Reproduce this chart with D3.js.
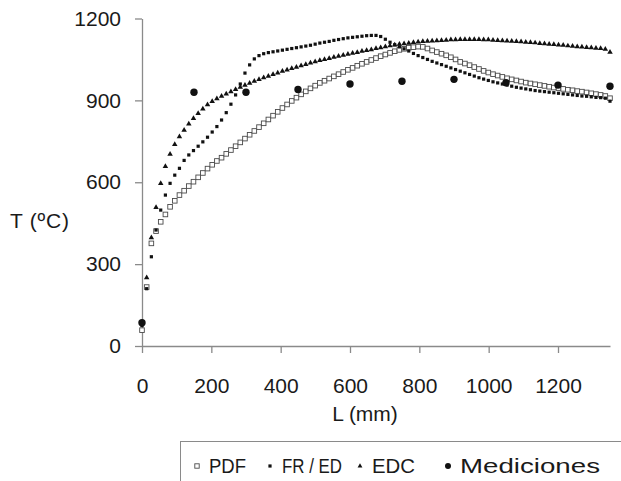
<!DOCTYPE html>
<html>
<head>
<meta charset="utf-8">
<script src="https://cdn.jsdelivr.net/npm/d3@7"></script>
<style>
  body { margin: 0; background: #fff; }
  text { font-family: "Liberation Sans", Arial, sans-serif; fill: #1a1a1a; }
</style>
</head>
<body>
<div id="chart"></div>
<script>
'use strict';

// axial position of the model nodes (mm)
const lengths = [
  0, 13.5, 27, 40.5, 54, 67.5, 81, 94.5, 108, 121.5,
  135, 148.5, 162, 175.5, 189, 202.5, 216, 229.5, 243, 256.5,
  270, 283.5, 297, 310.5, 324, 337.5, 351, 364.5, 378, 391.5,
  405, 418.5, 432, 445.5, 459, 472.5, 486, 499.5, 513, 526.5,
  540, 553.5, 567, 580.5, 594, 607.5, 621, 634.5, 648, 661.5,
  675, 688.5, 702, 715.5, 729, 742.5, 756, 769.5, 783, 796.5,
  810, 823.5, 837, 850.5, 864, 877.5, 891, 904.5, 918, 931.5,
  945, 958.5, 972, 985.5, 999, 1012.5, 1026, 1039.5, 1053, 1066.5,
  1080, 1093.5, 1107, 1120.5, 1134, 1147.5, 1161, 1174.5, 1188, 1201.5,
  1215, 1228.5, 1242, 1255.5, 1269, 1282.5, 1296, 1309.5, 1323, 1336.5,
  1350
];

const pdfTemps = [
  58, 216, 376, 421, 455, 482, 510, 532, 553, 569,
  586, 602, 618, 634, 650, 664, 678, 690, 704, 718,
  732, 746, 760, 774, 788, 802, 816, 830, 844, 858,
  872, 885, 898, 910, 922, 933, 944, 954, 964, 972,
  980, 988, 996, 1004, 1012, 1019, 1027, 1034, 1041, 1048,
  1055, 1062, 1068, 1074, 1080, 1085, 1089, 1093, 1095, 1097,
  1096, 1090, 1083, 1077, 1071, 1065, 1058, 1050, 1041, 1035,
  1029, 1022, 1015, 1008, 1002, 996, 991, 986, 981, 977,
  973, 969, 965, 962, 959, 956, 953, 950, 947, 945,
  942, 939, 937, 934, 932, 929, 926, 923, 920, 916,
  908
];

const frEdTemps = [
  75, 210, 327, 425, 498, 553, 596, 626, 651, 680,
  700, 716, 732, 748, 765, 784, 804, 828, 855, 886,
  920, 960, 1000, 1030, 1052, 1064, 1071, 1075, 1078, 1081,
  1084, 1087, 1090, 1093, 1096, 1099, 1102, 1106, 1110, 1113,
  1116, 1120, 1123, 1126, 1129, 1131, 1133, 1135, 1137, 1138,
  1138, 1134, 1124, 1113, 1104, 1096, 1089, 1081, 1072, 1064,
  1057, 1050, 1043, 1037, 1031, 1025, 1019, 1013, 1007, 1001,
  995, 989, 983, 978, 973, 968, 964, 960, 956, 952,
  948, 945, 942, 939, 936, 934, 932, 930, 928, 926,
  924, 922, 920, 918, 916, 915, 913, 911, 910, 908,
  897
];

const edcTemps = [
  85, 250, 397, 508, 596, 658, 703, 739, 767, 791,
  814, 834, 852, 869, 884, 896, 906, 915, 924, 932,
  940, 948, 956, 963, 970, 977, 983, 989, 995, 1001,
  1007, 1012, 1017, 1022, 1027, 1032, 1037, 1042, 1046, 1050,
  1054, 1058, 1062, 1066, 1069, 1073, 1076, 1080, 1083, 1086,
  1090, 1093, 1097, 1100, 1103, 1106, 1108, 1110, 1112, 1114,
  1116, 1117, 1118, 1119, 1120, 1121, 1122, 1122, 1123, 1123,
  1123, 1123, 1123, 1122, 1122, 1121, 1120, 1119, 1118, 1117,
  1116, 1115, 1113, 1112, 1111, 1109, 1108, 1106, 1105, 1103,
  1102, 1100, 1099, 1097, 1096, 1094, 1093, 1091, 1090, 1088,
  1077
];

const measLengths = [0, 150, 300, 450, 600, 750, 900, 1050, 1200, 1350];
const measTemps = [85, 930, 930, 940, 960, 970, 977, 965, 956, 952];

const xTicks = [0, 200, 400, 600, 800, 1000, 1200];
const yTicks = [0, 300, 600, 900, 1200];
const legendNames = ['PDF', 'FR / ED', 'EDC', 'Mediciones'];

const width = 621, height = 481;
const margin = {top: 18.5, right: 11, bottom: 135, left: 142};
const axisColor = '#8a8a8a';
const ink = '#111';

const svg = d3.select('#chart')
              .append('svg')
                .attr('width', width)
                .attr('height', height);

const x = d3.scaleLinear().domain([0, 1350]).range([margin.left, width - margin.right]);
const y = d3.scaleLinear().domain([0, 1200]).range([height - margin.bottom, margin.top]);

// axes
const xAxis = svg.append('g')
                 .attr('transform', 'translate(0,' + y(0) + ')')
                 .call(d3.axisBottom(x).tickValues(xTicks).tickFormat(d3.format('d'))
                         .tickSize(7).tickPadding(25).tickSizeOuter(0));
const yAxis = svg.append('g')
                 .attr('transform', 'translate(' + x(0) + ',0)')
                 .call(d3.axisLeft(y).tickValues(yTicks).tickFormat(d3.format('d'))
                         .tickSize(7).tickPadding(14).tickSizeOuter(0));
for (let ax of [xAxis, yAxis]) {
  ax.select('.domain').attr('stroke', axisColor).attr('stroke-width', 1.3);
  ax.selectAll('.tick line').attr('stroke', axisColor).attr('stroke-width', 1.3);
  ax.selectAll('.tick text')
    .attr('font-size', 21)
    .attr('font-family', '"Liberation Sans", Arial, sans-serif')
    .attr('fill', '#1a1a1a');
}

svg.append('text')
   .attr('x', 365).attr('y', 421)
   .attr('text-anchor', 'middle')
   .attr('font-size', 21)
   .text('L (mm)');
svg.append('text')
   .attr('x', 10).attr('y', 228)
   .attr('font-size', 21)
   .attr('textLength', 59)
   .text('T (ºC)');

// series
const plot = svg.append('g');
const pdfPts = lengths.map((l, i) => ({l: l, t: pdfTemps[i]}));
const frEdPts = lengths.map((l, i) => ({l: l, t: frEdTemps[i]}));
const edcPts = lengths.map((l, i) => ({l: l, t: edcTemps[i]}));
const measPts = measLengths.map((l, i) => ({l: l, t: measTemps[i]}));

const openSq = 4.6, smallSq = 3.2;
plot.append('g').selectAll('rect')
    .data(pdfPts).enter().append('rect')
      .attr('x', d => x(d.l) - openSq / 2)
      .attr('y', d => y(d.t) - openSq / 2)
      .attr('width', openSq).attr('height', openSq)
      .attr('fill', '#fff')
      .attr('stroke', '#4a4a4a').attr('stroke-width', 0.9);

plot.append('g').selectAll('rect')
    .data(frEdPts).enter().append('rect')
      .attr('x', d => x(d.l) - smallSq / 2)
      .attr('y', d => y(d.t) - smallSq / 2)
      .attr('width', smallSq).attr('height', smallSq)
      .attr('fill', ink);

const tri = d3.symbol().type(d3.symbolTriangle).size(13);
plot.append('g').selectAll('path')
    .data(edcPts).enter().append('path')
      .attr('d', tri)
      .attr('transform', d => 'translate(' + x(d.l) + ',' + y(d.t) + ')')
      .attr('fill', ink);

plot.append('g').selectAll('circle')
    .data(measPts).enter().append('circle')
      .attr('cx', d => x(d.l))
      .attr('cy', d => y(d.t))
      .attr('r', 3.7)
      .attr('fill', ink);

// legend
const legend = svg.append('g');
legend.append('rect')
      .attr('x', 180.5).attr('y', 441.5)
      .attr('width', 460).attr('height', 60)
      .attr('fill', 'none')
      .attr('stroke', axisColor).attr('stroke-width', 1);

const legendX = [197, 270, 360, 448];
const legendW = [37, 60, 43, 140];
const ly = 466;
legend.append('rect')
      .attr('x', legendX[0] - 2.2).attr('y', ly - 2.2)
      .attr('width', 4.4).attr('height', 4.4)
      .attr('fill', '#fff').attr('stroke', '#4a4a4a').attr('stroke-width', 0.9);
legend.append('rect')
      .attr('x', legendX[1] - 1.6).attr('y', ly - 1.6)
      .attr('width', 3.2).attr('height', 3.2)
      .attr('fill', ink);
legend.append('path')
      .attr('d', d3.symbol().type(d3.symbolTriangle).size(10))
      .attr('transform', 'translate(' + legendX[2] + ',' + ly + ')')
      .attr('fill', ink);
legend.append('circle')
      .attr('cx', legendX[3]).attr('cy', ly).attr('r', 3)
      .attr('fill', ink);

legend.selectAll('text.legend-label')
      .data(legendNames).enter().append('text')
        .attr('class', 'legend-label')
        .attr('x', (d, i) => legendX[i] + 12)
        .attr('y', 473)
        .attr('font-size', 20)
        .attr('textLength', (d, i) => legendW[i])
        .attr('lengthAdjust', 'spacingAndGlyphs')
        .text(d => d);
</script>
</body>
</html>
